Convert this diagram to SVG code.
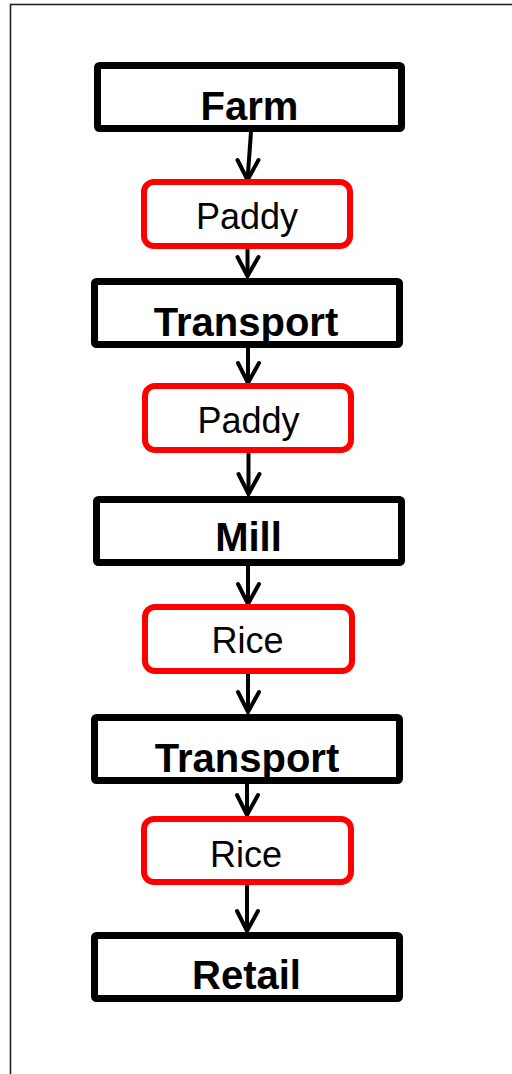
<svg xmlns="http://www.w3.org/2000/svg" width="512" height="1074" viewBox="0 0 512 1074">
  <defs>
    <style>
      .stage { fill: #fff; stroke: #000; stroke-width: 7; }
      .product { fill: #fff; stroke: #ff0000; stroke-width: 6; }
      .stage-label { font-family: "Liberation Sans", Arial, sans-serif; font-weight: bold; font-size: 40px; text-anchor: middle; fill: #000; }
      .product-label { font-family: "Liberation Sans", Arial, sans-serif; font-size: 36px; text-anchor: middle; fill: #000; }
      .flow { fill: none; stroke: #000; stroke-width: 4; stroke-linecap: butt; }
      .head { fill: none; stroke: #000; stroke-width: 4; stroke-linecap: round; stroke-linejoin: miter; }
    </style>
  </defs>

  <rect width="512" height="1074" fill="#fff"/>
  <!-- page frame, running off the right and bottom edges -->
  <rect x="10.5" y="4.5" width="600" height="1200" fill="none" stroke="#222" stroke-width="1.6"/>

  <g id="connectors">
    <line class="flow" x1="251" y1="132" x2="247.5" y2="180"/>
    <polyline class="head" points="237.5,160 247.5,180 258.5,160"/>

    <line class="flow" x1="247.5" y1="249" x2="247.5" y2="276"/>
    <polyline class="head" points="237.5,257 247.5,276 258.5,257"/>

    <line class="flow" x1="248" y1="348" x2="248" y2="383"/>
    <polyline class="head" points="238,363 248,383 259,363"/>

    <line class="flow" x1="248.5" y1="453" x2="248.5" y2="494"/>
    <polyline class="head" points="238.5,474 248.5,494 259.5,474"/>

    <line class="flow" x1="248" y1="566" x2="248" y2="604"/>
    <polyline class="head" points="238,584 248,604 259,584"/>

    <line class="flow" x1="248" y1="674" x2="248" y2="712"/>
    <polyline class="head" points="238,692 248,712 259,692"/>

    <line class="flow" x1="247" y1="784" x2="247" y2="815"/>
    <polyline class="head" points="237,795 247,815 258,795"/>

    <line class="flow" x1="247" y1="885" x2="247" y2="931"/>
    <polyline class="head" points="237,911 247,931 258,911"/>
  </g>

  <g id="farm">
    <rect class="stage" x="97.5" y="65.5" width="304" height="63" rx="2"/>
    <text class="stage-label" x="249.5" y="120">Farm</text>
  </g>

  <g id="paddy-1">
    <rect class="product" x="144" y="182" width="206" height="64" rx="10"/>
    <text class="product-label" x="247" y="229">Paddy</text>
  </g>

  <g id="transport-1">
    <rect class="stage" x="94.5" y="281.5" width="305" height="63" rx="2"/>
    <text class="stage-label" x="246" y="336">Transport</text>
  </g>

  <g id="paddy-2">
    <rect class="product" x="145" y="386" width="206" height="64" rx="10"/>
    <text class="product-label" x="248.5" y="433">Paddy</text>
  </g>

  <g id="mill">
    <rect class="stage" x="96.5" y="499.5" width="305" height="63" rx="2"/>
    <text class="stage-label" x="248.5" y="551">Mill</text>
  </g>

  <g id="rice-1">
    <rect class="product" x="145" y="607" width="207" height="64" rx="10"/>
    <text class="product-label" x="247.5" y="653" font-size="34">Rice</text>
  </g>

  <g id="transport-2">
    <rect class="stage" x="94.5" y="717.5" width="305" height="63" rx="2"/>
    <text class="stage-label" x="247" y="772">Transport</text>
  </g>

  <g id="rice-2">
    <rect class="product" x="144" y="819" width="207" height="63" rx="10"/>
    <text class="product-label" x="246" y="867" font-size="38">Rice</text>
  </g>

  <g id="retail">
    <rect class="stage" x="94.5" y="935.5" width="305" height="63" rx="2"/>
    <text class="stage-label" x="246.5" y="989">Retail</text>
  </g>
</svg>
